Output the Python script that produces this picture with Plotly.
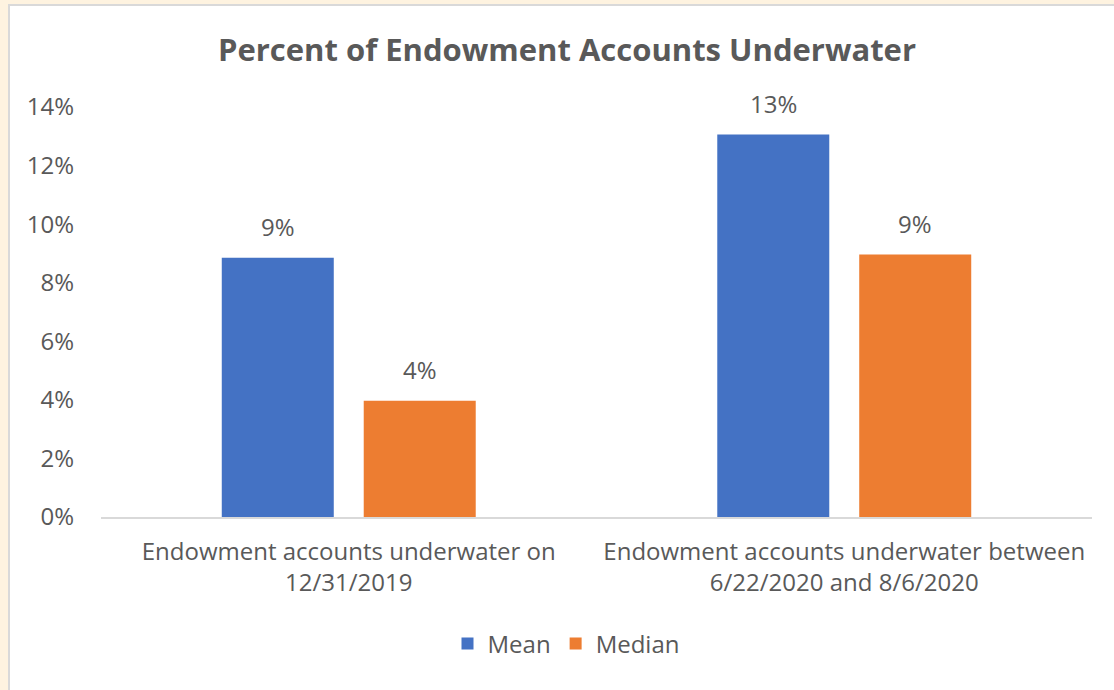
import plotly.graph_objects as go

# Survey results: share of endowment accounts underwater
categories = [
    "Endowment accounts underwater on<br>12/31/2019",
    "Endowment accounts underwater between<br>6/22/2020 and 8/6/2020",
]
series_names = ["Mean", "Median"]
mean_values = [0.0885, 0.1306]
median_values = [0.0397, 0.0896]
series_colors = ["#4472C4", "#ED7D31"]
y_ticks = [0, 0.02, 0.04, 0.06, 0.08, 0.10, 0.12, 0.14]

TEXT = "#595959"
FONT = "Open Sans"
SIZE = 24

# plot-area geometry in pixels (used for the frame shapes)
W, H = 1114, 690
ML, MR, MT, MB = 101, 22, 107, 173
PW, PH = W - ML - MR, H - MT - MB


def px_x(p):
    return (p - ML) / PW


def px_y(p):
    return (H - MB - p) / PH


fig = go.Figure()
for name, vals, col in zip(series_names, [mean_values, median_values], series_colors):
    fig.add_trace(go.Bar(
        name=name, x=categories, y=vals, marker_color=col,
        marker_line_width=0,
    ))

# value labels above each bar
slot_px = 142
for i, (name, vals) in enumerate(zip(series_names, [mean_values, median_values])):
    shift = (i - 0.5) * slot_px
    for c, v in zip(categories, vals):
        fig.add_annotation(
            x=c, y=v, xref="x", yref="y", text=f"{v:.0%}", showarrow=False,
            xshift=shift, yshift=31, font=dict(family=FONT, size=SIZE, color=TEXT),
        )

# beige surround and the light grey edge of the chart card
fig.add_shape(type="rect", xref="paper", yref="paper", layer="below",
              x0=px_x(9), x1=px_x(W + 20), y0=px_y(H + 20), y1=px_y(5),
              fillcolor="white", line=dict(color="#D9D9D9", width=2))

fig.update_layout(
    width=W, height=H,
    margin=dict(l=ML, r=MR, t=MT, b=MB, pad=0),
    paper_bgcolor="#FEF3E0", plot_bgcolor="white",
    barmode="group", bargap=0.427, bargroupgap=0.211,
    font=dict(family=FONT, size=SIZE, color=TEXT),
    title=dict(text="<b>Percent of Endowment Accounts Underwater</b>",
               x=px_x(567), xanchor="center", y=1 - 50 / H, yanchor="middle",
               xref="paper", yref="container",
               font=dict(family=FONT, size=31, color=TEXT)),
    showlegend=True,
    legend=dict(orientation="h", x=px_x(566), xanchor="center",
                y=px_y(644), yanchor="middle",
                font=dict(family=FONT, size=SIZE, color=TEXT),
                itemwidth=30, bgcolor="rgba(0,0,0,0)"),
    xaxis=dict(showgrid=False, showline=True, linecolor="#D9D9D9", linewidth=2,
               ticks="", tickfont=dict(family=FONT, size=SIZE, color=TEXT),
               ticklabelstandoff=12),
    yaxis=dict(range=[0, 0.14], tickvals=y_ticks, tickformat=".0%",
               showgrid=False, showline=False, zeroline=False, ticks="",
               tickfont=dict(family=FONT, size=SIZE, color=TEXT),
               ticklabelstandoff=26),
)

fig.write_html("out.html")
